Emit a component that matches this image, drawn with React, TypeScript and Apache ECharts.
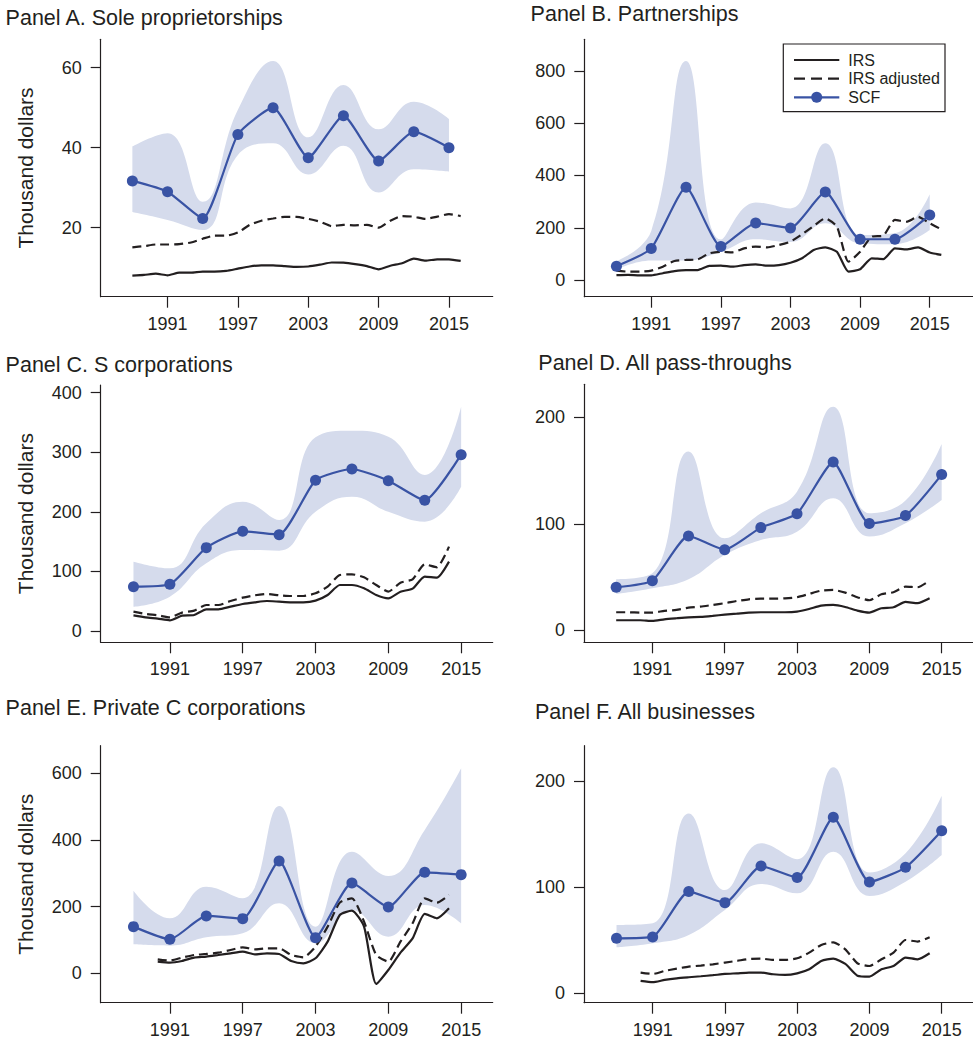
import { useEffect, useRef } from "react";
import * as echarts from "echarts";

const FONT = '"Liberation Sans", Arial, Helvetica, sans-serif';
const INK = "#231f20";
const SCF_BLUE = "#3953a4";
const BAND = "#d5dbec";

const legendLabels = ["IRS", "IRS adjusted", "SCF"];
const xTickYears = [1991, 1997, 2003, 2009, 2015];
const scfYears = [1988, 1991, 1994, 1997, 2000, 2003, 2006, 2009, 2012, 2015];
const irsYears1988to2016 = [
  1988, 1989, 1990, 1991, 1992, 1993, 1994, 1995, 1996, 1997, 1998, 1999, 2000, 2001, 2002,
  2003, 2004, 2005, 2006, 2007, 2008, 2009, 2010, 2011, 2012, 2013, 2014, 2015, 2016,
];
const irsYears1988to2014 = [
  1988, 1989, 1990, 1991, 1992, 1993, 1994, 1995, 1996, 1997, 1998, 1999, 2000, 2001, 2002,
  2003, 2004, 2005, 2006, 2007, 2008, 2009, 2010, 2011, 2012, 2013, 2014,
];
const irsYears1990to2014 = [
  1990, 1991, 1992, 1993, 1994, 1995, 1996, 1997, 1998, 1999, 2000, 2001, 2002, 2003, 2004,
  2005, 2006, 2007, 2008, 2009, 2010, 2011, 2012, 2013, 2014,
];

// Panel A. Sole proprietorships (thousand dollars)
const titleA = "Panel A. Sole proprietorships";
const yTicksA = [20, 40, 60];
const scfA = [31.7, 29.0, 22.3, 43.3, 50.0, 37.5, 48.0, 36.7, 44.0, 40.0];
const scfUpperA = [40.3, 43.6, 26.5, 49.5, 61.7, 42.6, 55.7, 44.6, 51.5, 47.2];
const scfLowerA = [23.9, 21.9, 19.4, 38.2, 41.1, 33.3, 40.5, 28.8, 34.6, 34.0];
const irsA = [
  8.0, 8.2, 8.5, 8.1, 8.75, 8.75, 9.0, 9.0, 9.2, 9.75, 10.3, 10.6, 10.6, 10.4, 10.2, 10.3,
  10.75, 11.3, 11.25, 10.9, 10.4, 9.6, 10.5, 11.1, 12.25, 11.75, 12.1, 12.1, 11.7,
];
const irsAdjA = [
  15.1, 15.4, 15.8, 15.8, 15.9, 16.3, 17.25, 18.0, 18.0, 18.8, 20.7, 21.75, 22.3, 22.7, 22.7,
  22.2, 21.5, 20.4, 20.7, 20.6, 20.7, 20.0, 21.75, 22.9, 22.75, 22.2, 22.75, 23.4, 22.9,
];

// Panel B. Partnerships
const titleB = "Panel B. Partnerships";
const yTicksB = [0, 200, 400, 600, 800];
const scfB = [53, 121, 355, 128, 218, 199, 337, 156, 156, 249];
const scfUpperB = [72, 188, 838, 155, 297, 274, 523, 172, 179, 328];
const scfLowerB = [40, 75, 75, 108, 156, 145, 217, 140, 137, 191];
const irsB = [
  19, 20, 18, 18, 26, 34, 38, 38, 54, 55, 51, 57, 60, 55, 57, 66, 83, 115, 125, 108, 32, 41,
  83, 80, 121, 117, 125, 105, 96,
];
const irsAdjB = [
  36, 32, 32, 36, 51, 73, 77, 79, 102, 108, 106, 121, 128, 125, 134, 147, 175, 207, 236, 204,
  70, 108, 166, 170, 230, 223, 242, 217, 194,
];

// Panel C. S corporations
const titleC = "Panel C. S corporations";
const yTicksC = [0, 100, 200, 300, 400];
const scfC = [74.4, 78.3, 139.9, 167.3, 161.7, 252.9, 271.9, 252.3, 219.3, 296];
const scfUpperC = [116.4, 105.2, 180.7, 217, 186.3, 325, 336, 326, 262, 376.5];
const scfLowerC = [40.8, 57.6, 113.6, 136, 134.8, 200, 225.5, 200, 183.5, 242];
const irsC = [
  26.3, 22.9, 20.7, 17.9, 25.7, 26.9, 36.4, 36.4, 40.8, 45.3, 48.1, 50.3, 49.2, 48.1, 48.1,
  50.9, 60.4, 77.2, 77.2, 71.6, 60.4, 54.8, 66, 71, 91.2, 89.5, 116.4,
];
const irsAdjC = [
  32.4, 28.5, 26.3, 22.9, 30.8, 34.1, 43.6, 43.6, 50.3, 55.9, 59.9, 62.1, 59.9, 58.7, 58.7,
  63.2, 74.4, 94, 95.1, 90, 77.2, 66, 81.1, 86.7, 111.9, 106.9, 141.5,
];

// Panel D. All pass-throughs
const titleD = "Panel D. All pass-throughs";
const yTicksD = [0, 100, 200];
const scfD = [40.4, 46.6, 88.6, 75.7, 96.4, 109.5, 158, 100.2, 107.7, 146.2];
const scfUpperD = [47.9, 53.5, 167.8, 86.4, 109.9, 130.2, 210, 109.9, 121.8, 175];
const scfLowerD = [34.1, 39.4, 47.9, 70.7, 84.8, 92.6, 124, 88, 100.5, 122.4];
const irsD = [
  9.4, 9.4, 9.4, 8.8, 10.3, 11.3, 12.2, 12.5, 13.5, 14.7, 15.6, 16.6, 16.9, 16.9, 16.9, 17.5,
  20, 23.2, 23.8, 21.9, 18.5, 16.6, 20.7, 21.6, 26.6, 25.4, 30,
];
const irsAdjD = [
  16.9, 16.9, 16.6, 16.6, 18.2, 19.1, 21.3, 22.2, 23.8, 25.4, 27.5, 29.1, 29.7, 29.7, 30, 31,
  34.1, 37.2, 37.9, 35.4, 31, 28.2, 33.8, 35.7, 41, 40.4, 46.6,
];

// Panel E. Private C corporations
const titleE = "Panel E. Private C corporations";
const yTicksE = [0, 200, 400, 600];
const scfE = [140, 102, 172, 164, 337, 107, 271, 199, 303, 296];
const scfUpperE = [248, 165, 260, 225, 502, 140, 365, 292, 430, 615];
const scfLowerE = [87, 83, 108, 120, 210, 90, 190, 110, 205, 150];
const irsE = [
  35, 32, 37, 47, 50, 55, 60, 65, 57, 60, 58, 37, 30, 45, 95, 175, 188, 140, -32, 10, 62, 105,
  178, 165, 195,
];
const irsAdjE = [
  42, 38, 47, 55, 58, 62, 70, 78, 72, 75, 75, 55, 48, 80, 140, 212, 225, 155, 55, 35, 95, 150,
  225, 212, 235,
];

// Panel F. All businesses
const titleF = "Panel F. All businesses";
const yTicksF = [0, 100, 200];
const scfF = [51.8, 53.1, 95.8, 85.4, 119.9, 109, 165.8, 104.9, 118.7, 153.2];
const scfUpperF = [64.4, 66, 169.5, 97.3, 141.3, 126.2, 212.9, 113.7, 131.9, 186.2];
const scfLowerF = [43.3, 47.1, 55, 78.5, 103, 94.2, 133.4, 91.7, 105.2, 130.3];
const irsF = [
  11.6, 10.4, 12.6, 14.1, 15.1, 16, 17, 18.2, 18.8, 19.5, 19.5, 17.9, 17.3, 18.8, 22.6, 30.5,
  32.7, 27.6, 16.6, 15.7, 22.6, 25.7, 33.6, 32, 37.7,
];
const irsAdjF = [
  19.5, 18.2, 21, 23.2, 25.1, 26.1, 27.3, 28.9, 30.5, 32.3, 32.7, 31.4, 31.4, 33, 38.3, 45.5,
  48, 41.4, 28.3, 25.7, 32, 38.3, 50.2, 48.7, 52.7,
];

const yAxisTitle = "Thousand dollars";

const panels = [
  { title: titleA, yTicks: yTicksA, scf: scfA, upper: scfUpperA, lower: scfLowerA, irsYears: irsYears1988to2016, irs: irsA, irsAdj: irsAdjA },
  { title: titleB, yTicks: yTicksB, scf: scfB, upper: scfUpperB, lower: scfLowerB, irsYears: irsYears1988to2016, irs: irsB, irsAdj: irsAdjB },
  { title: titleC, yTicks: yTicksC, scf: scfC, upper: scfUpperC, lower: scfLowerC, irsYears: irsYears1988to2014, irs: irsC, irsAdj: irsAdjC },
  { title: titleD, yTicks: yTicksD, scf: scfD, upper: scfUpperD, lower: scfLowerD, irsYears: irsYears1988to2014, irs: irsD, irsAdj: irsAdjD },
  { title: titleE, yTicks: yTicksE, scf: scfE, upper: scfUpperE, lower: scfLowerE, irsYears: irsYears1990to2014, irs: irsE, irsAdj: irsAdjE },
  { title: titleF, yTicks: yTicksF, scf: scfF, upper: scfUpperF, lower: scfLowerF, irsYears: irsYears1990to2014, irs: irsF, irsAdj: irsAdjF },
];

// Plot boxes, axis ranges and title anchors for the 3 x 2 layout
const layouts = [
  { left: 100.7, top: 39.3, width: 392, height: 257.4, xMin: 1985.3, xMax: 2018.73, yMin: 2.75, yMax: 67.1, titleX: 5.6, titleY: 18.4, yName: true },
  { left: 584.3, top: 39.3, width: 391.3, height: 257.4, xMin: 1985.23, xMax: 2018.73, yMin: -63.9, yMax: 921.3, titleX: 530.6, titleY: 14.4, yName: false },
  { left: 100.7, top: 385, width: 392, height: 257.3, xMin: 1985.3, xMax: 2017.6, yMin: -19, yMax: 412.9, titleX: 5.6, titleY: 365.4, yName: true },
  { left: 584, top: 384.3, width: 391.6, height: 258, xMin: 1985.33, xMax: 2017.6, yMin: -11.3, yMax: 231, titleX: 538.3, titleY: 362.7, yName: false },
  { left: 100.7, top: 745.7, width: 392, height: 257, xMin: 1985.3, xMax: 2017.6, yMin: -88.2, yMax: 682.8, titleX: 5.6, titleY: 707.7, yName: true },
  { left: 584, top: 745.7, width: 391.6, height: 257, xMin: 1985.3, xMax: 2017.6, yMin: -8.9, yMax: 233.3, titleX: 535, titleY: 711.7, yName: false },
];

const pairs = (xs: number[], ys: number[]) => xs.map((x, i) => [x, ys[i]]);
// Band rows keep the value in the first column so that stacking acts on the y axis.
const bandRows = (xs: number[], ys: number[]) => xs.map((x, i) => [ys[i], x]);

function buildOption() {
  const axisLine = { show: true, onZero: false, lineStyle: { color: INK, width: 1.2 } };
  const labelStyle = { color: INK, fontSize: 18, fontFamily: FONT };

  const grid = layouts.map((l) => ({ left: l.left, top: l.top, width: l.width, height: l.height }));

  const xAxis = layouts.map((l, i) => ({
    type: "value",
    gridIndex: i,
    min: l.xMin,
    max: l.xMax,
    z: 5,
    axisLine,
    axisTick: { show: true, length: 11, customValues: xTickYears, lineStyle: { color: INK, width: 1.2 } },
    axisLabel: { ...labelStyle, margin: 18, customValues: xTickYears, formatter: (v: number) => String(v) },
    splitLine: { show: false },
  }));

  const yAxis = layouts.map((l, i) => ({
    type: "value",
    gridIndex: i,
    min: l.yMin,
    max: l.yMax,
    z: 5,
    axisLine,
    axisTick: { show: true, length: 10, customValues: panels[i].yTicks, lineStyle: { color: INK, width: 1.2 } },
    axisLabel: { ...labelStyle, margin: 19, customValues: panels[i].yTicks, formatter: (v: number) => String(v) },
    splitLine: { show: false },
    name: l.yName ? yAxisTitle : "",
    nameLocation: "middle",
    nameRotate: 90,
    nameGap: 65,
    nameTextStyle: { color: INK, fontSize: 21, fontFamily: FONT },
  }));

  const series: any[] = [];
  panels.forEach((p, i) => {
    const common = { xAxisIndex: i, yAxisIndex: i, silent: true };
    // confidence band: invisible lower bound, then the band width stacked on top of it
    series.push({
      ...common,
      type: "line",
      name: "SCF lower bound",
      stack: "band" + i,
      encode: { x: 1, y: 0 },
      data: bandRows(scfYears, p.lower),
      smooth: 0.45,
      symbol: "none",
      lineStyle: { opacity: 0 },
      z: 1,
    });
    series.push({
      ...common,
      type: "line",
      name: "SCF upper bound",
      stack: "band" + i,
      encode: { x: 1, y: 0 },
      data: bandRows(scfYears, p.upper.map((u, k) => u - p.lower[k])),
      smooth: 0.45,
      symbol: "none",
      lineStyle: { opacity: 0 },
      areaStyle: { color: BAND, opacity: 1 },
      z: 1,
    });
    series.push({
      ...common,
      type: "line",
      name: legendLabels[0],
      data: pairs(p.irsYears, p.irs),
      smooth: 0.2,
      symbol: "none",
      lineStyle: { color: INK, width: 2.2 },
      itemStyle: { color: INK },
      z: 2,
    });
    series.push({
      ...common,
      type: "line",
      name: legendLabels[1],
      data: pairs(p.irsYears, p.irsAdj),
      smooth: 0.2,
      symbol: "none",
      lineStyle: { color: INK, width: 2.2, type: [9, 5] },
      itemStyle: { color: INK },
      z: 2,
    });
    series.push({
      ...common,
      type: "line",
      name: legendLabels[2],
      data: pairs(scfYears, p.scf),
      smooth: 0.18,
      symbol: "circle",
      symbolSize: 11,
      showSymbol: true,
      lineStyle: { color: SCF_BLUE, width: 2.2 },
      itemStyle: { color: SCF_BLUE },
      z: 3,
    });
  });

  const titles = panels.map((p, i) => ({
    type: "text",
    x: layouts[i].titleX,
    y: layouts[i].titleY,
    style: { text: p.title, fill: INK, fontSize: 21.5, fontFamily: FONT, align: "left", verticalAlign: "middle" },
  }));

  // Legend box inside Panel B
  const lgX = 783.3;
  const lgY = 44;
  const rowY = [60, 78.7, 97.3];
  const legend = {
    type: "group",
    z: 100,
    children: [
      { type: "rect", shape: { x: lgX, y: lgY, width: 161.7, height: 67.7 }, style: { fill: "#ffffff", stroke: INK, lineWidth: 1.2 } },
      { type: "line", shape: { x1: 794, y1: rowY[0], x2: 839.3, y2: rowY[0] }, style: { stroke: INK, lineWidth: 2.2 } },
      { type: "line", shape: { x1: 794, y1: rowY[1], x2: 839.3, y2: rowY[1] }, style: { stroke: INK, lineWidth: 2.2, lineDash: [11, 6] } },
      { type: "line", shape: { x1: 794, y1: rowY[2], x2: 839.3, y2: rowY[2] }, style: { stroke: SCF_BLUE, lineWidth: 2.2 } },
      { type: "circle", shape: { cx: 816.7, cy: rowY[2], r: 5.5 }, style: { fill: SCF_BLUE } },
      ...legendLabels.map((t, k) => ({
        type: "text",
        x: 848.3,
        y: rowY[k],
        style: { text: t, fill: INK, fontSize: 16, fontFamily: FONT, align: "left", verticalAlign: "middle" },
      })),
    ],
  };

  return {
    animation: false,
    backgroundColor: "#ffffff",
    grid,
    xAxis,
    yAxis,
    series,
    graphic: [...titles, legend],
  };
}

export default function App() {
  const ref = useRef<HTMLDivElement>(null);
  useEffect(() => {
    if (!ref.current) return;
    const chart = echarts.init(ref.current, undefined, { renderer: "svg" });
    chart.setOption(buildOption() as any);
    return () => chart.dispose();
  }, []);
  return (
    <div
      ref={ref}
      style={{ position: "absolute", left: 0, top: 0, width: 973, height: 1040, background: "#ffffff" }}
    />
  );
}
